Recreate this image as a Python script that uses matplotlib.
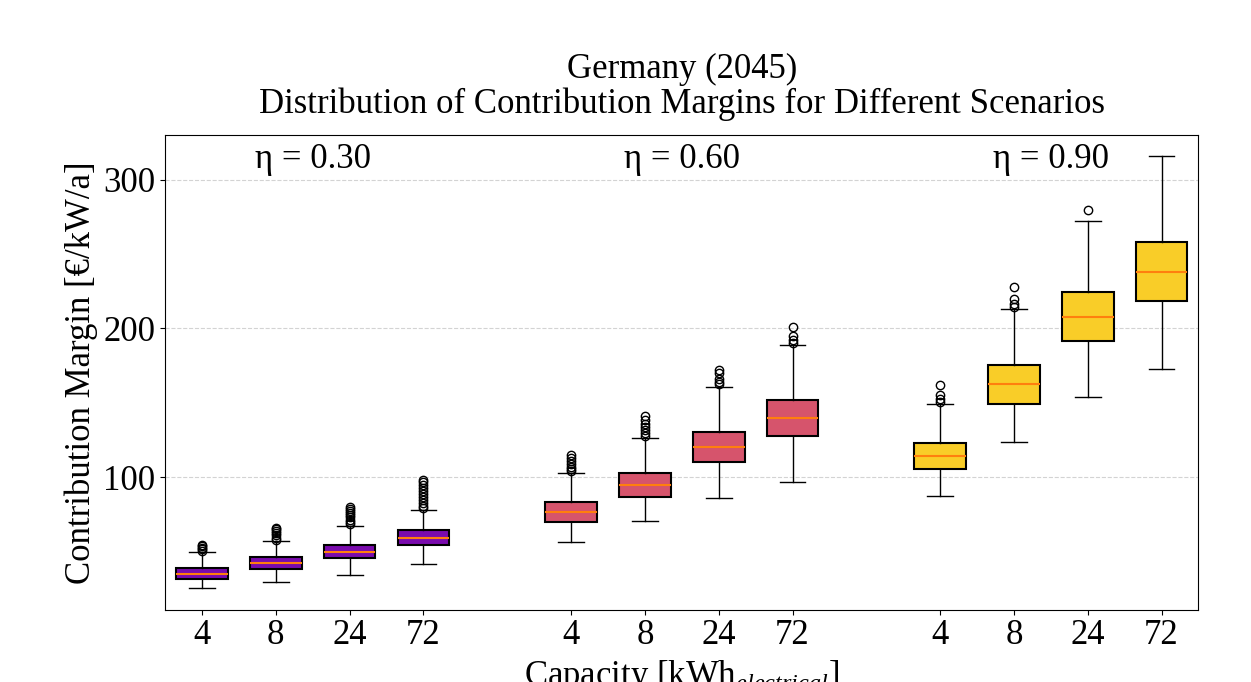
#!/usr/bin/env python3
"""Box plots of contribution margins per storage capacity and efficiency scenario."""

import matplotlib

matplotlib.use("Agg")
import matplotlib.pyplot as plt
import matplotlib.transforms as mtransforms

SCENARIOS = ["η = 0.30", "η = 0.60", "η = 0.90"]
CAPACITIES = ["4", "8", "24", "72"]
SCENARIO_COLORS = ["#7a0bad", "#d6546c", "#f9cd28"]

# box statistics, ordered scenario by scenario
WHISLO = [25.3, 29.7, 34.4, 42.0, 56.2, 70.3, 86.1, 97.1, 87.5, 124.0, 154.2, 172.9]
Q1 = [31.5, 38.3, 45.9, 54.4, 70.0, 87.0, 110.3, 127.5, 105.4, 149.0, 191.5, 218.6]
MEDIANS = [35.1, 42.3, 50.1, 59.5, 76.5, 94.6, 120.4, 139.8, 114.3, 162.4, 207.4, 237.8]
Q3 = [38.9, 46.5, 54.6, 64.9, 83.2, 102.9, 130.4, 152.1, 123.3, 175.2, 224.4, 258.2]
WHISHI = [49.5, 57.3, 67.3, 77.9, 102.7, 126.2, 160.6, 188.6, 149.0, 212.8, 272.0, 316.1]
FLIERS = [
    [50.5, 51.5, 52.5, 53.5, 54.6],
    [58.0, 59.5, 61.0, 62.5, 64.0, 65.2, 66.2],
    [68.5, 70.0, 71.5, 73.0, 74.5, 76.0, 77.5, 79.0, 80.3],
    [79.5, 81.0, 83.0, 85.0, 87.0, 89.0, 91.0, 93.0, 95.0, 96.5, 98.0],
    [104.0, 105.5, 107.0, 109.0, 111.0, 113.0, 115.0],
    [128.0, 130.0, 132.0, 134.0, 136.0, 138.5, 141.0],
    [162.5, 164.0, 166.0, 170.0, 172.0],
    [190.5, 192.5, 195.0, 200.7],
    [150.5, 152.5, 155.0, 161.9],
    [214.5, 216.5, 219.5, 228.0],
    [279.9],
    [],
]

plt.rcParams["font.family"] = ["Liberation Serif", "DejaVu Serif"]
plt.rcParams["mathtext.fontset"] = "custom"
plt.rcParams["mathtext.rm"] = "Liberation Serif"
plt.rcParams["mathtext.it"] = "Liberation Serif:italic"

fig = plt.figure(figsize=(12.51, 6.82), dpi=100)
ax = fig.add_axes([0.132, 0.106, 0.826, 0.696])

n_cap = len(CAPACITIES)
stats = []
positions = []
for g in range(len(SCENARIOS)):
    for i in range(n_cap):
        k = g * n_cap + i
        stats.append({
            "whislo": WHISLO[k], "q1": Q1[k], "med": MEDIANS[k],
            "q3": Q3[k], "whishi": WHISHI[k], "fliers": FLIERS[k],
        })
        positions.append(g * (n_cap + 1) + i + 1)

bp = ax.bxp(
    stats,
    positions=positions,
    widths=0.7,
    patch_artist=True,
    boxprops={"linewidth": 1.5, "edgecolor": "black"},
    whiskerprops={"linewidth": 1.0},
    capprops={"linewidth": 1.0},
    medianprops={"color": "#ff7f0e", "linewidth": 1.5},
    flierprops={"marker": "o", "markerfacecolor": "none",
                "markeredgecolor": "black", "markersize": 6},
)
for k, patch in enumerate(bp["boxes"]):
    patch.set_facecolor(SCENARIO_COLORS[k // n_cap])

trans = mtransforms.blended_transform_factory(ax.transData, ax.transAxes)
for g, label in enumerate(SCENARIOS):
    ax.text(g * (n_cap + 1) + (n_cap + 1) / 2, 0.948, label, transform=trans,
            ha="center", va="center", fontsize=25)

ax.set_xlim(0.5, 14.5)
ax.set_ylim(11, 330)
ax.set_xticks(positions)
ax.set_xticklabels(CAPACITIES * len(SCENARIOS))
ax.set_yticks([100, 200, 300])
ax.tick_params(labelsize=25)
ax.yaxis.grid(True, linestyle="--", color="lightgray", linewidth=0.8)
ax.set_axisbelow(True)

ax.set_ylabel("Contribution Margin [€/kW/a]", fontsize=25)
ax.set_xlabel("Capacity [kWh$_{electrical}$]", fontsize=25, labelpad=4)
ax.set_title("Germany (2045)\nDistribution of Contribution Margins for Different Scenarios",
             fontsize=25, linespacing=1.05, pad=16)

fig.savefig("out.png", dpi=100)
